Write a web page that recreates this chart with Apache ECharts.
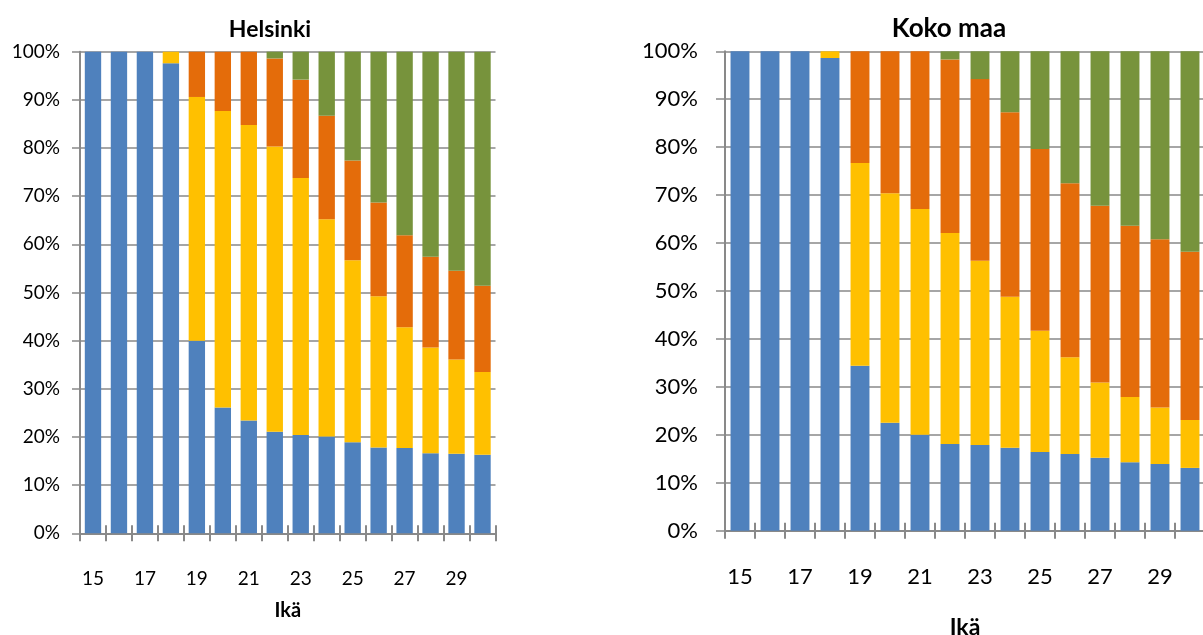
<!DOCTYPE html>
<html>
<head>
<meta charset="utf-8">
<script src="https://cdn.jsdelivr.net/npm/echarts@6/dist/echarts.min.js"></script>
<style>
html,body{margin:0;padding:0;background:#fff;}
#chart{width:1203px;height:635px;}
</style>
</head>
<body>
<div id="chart"></div>
<script>
const ages = ['15','16','17','18','19','20','21','22','23','24','25','26','27','28','29','30'];

// Helsinki (shares, %)
const helBlue   = [100,100,100,97.6,40.0,26.1,23.4,21.1,20.4,20.1,18.9,17.8,17.7,16.6,16.5,16.3];
const helYellow = [0,0,0,2.4,50.6,61.6,61.4,59.2,53.4,45.1,37.8,31.4,25.1,22.0,19.6,17.2];
const helOrange = [0,0,0,0,9.4,12.3,15.2,18.3,20.4,21.5,20.7,19.5,19.1,18.8,18.4,17.9];
const helGreen  = [0,0,0,0,0,0,0,1.4,5.8,13.3,22.6,31.3,38.1,42.6,45.5,48.6];

// Koko maa (shares, %)
const kokoBlue   = [100,100,100,98.6,34.4,22.5,20.0,18.1,17.9,17.3,16.4,16.0,15.2,14.3,13.9,13.1];
const kokoYellow = [0,0,0,1.4,42.3,47.9,47.1,44.0,38.4,31.5,25.3,20.2,15.7,13.6,11.8,10.0];
const kokoOrange = [0,0,0,0,23.3,29.6,32.9,36.2,37.9,38.5,37.9,36.3,36.9,35.7,35.1,35.1];
const kokoGreen  = [0,0,0,0,0,0,0,1.7,5.8,12.7,20.4,27.5,32.2,36.4,39.2,41.8];

const titles = ['Helsinki', 'Koko maa'];
const axisName = 'Ikä';

const colors = ['#4F81BD', '#FFC000', '#E46C0A', '#77933C'];
const FONT = 'Lato';
const GRAY = '#898989';

const chart = echarts.init(document.getElementById('chart'), null, {renderer: 'canvas'});

function mainX(gi, gap, fs, nfs, lm) {
  return {
    type: 'category', gridIndex: gi, data: ages, position: 'bottom',
    boundaryGap: true,
    axisLine: {show: true, lineStyle: {color: GRAY, width: 2}},
    axisTick: {show: true, interval: 0, length: 8, lineStyle: {color: GRAY, width: 2}},
    axisLabel: {interval: 1, margin: lm, fontFamily: FONT, fontSize: fs, color: '#000'},
    name: axisName, nameLocation: 'middle', nameGap: gap,
    nameTextStyle: {fontFamily: FONT, fontSize: nfs, fontWeight: 'bold', color: '#000'},
    splitLine: {show: false}
  };
}
function innerX(gi) {
  return {
    type: 'category', gridIndex: gi, data: ages, position: 'bottom',
    boundaryGap: true,
    axisLine: {show: false},
    axisTick: {show: true, inside: true, interval: 0, length: 8, lineStyle: {color: GRAY, width: 2}},
    axisLabel: {show: false},
    splitLine: {show: false}
  };
}
function yAx(gi, fs, margin, tl) {
  return {
    type: 'value', gridIndex: gi, min: 0, max: 100, interval: 10,
    axisLine: {show: true, lineStyle: {color: GRAY, width: 2}},
    axisTick: {show: true, length: tl, lineStyle: {color: GRAY, width: 1.5}},
    axisLabel: {formatter: '{value}%', margin: margin, fontFamily: FONT, fontSize: fs, color: '#000'},
    splitLine: {show: true, lineStyle: {color: GRAY, width: 1.5}}
  };
}
function bars(gi, stack, arrs) {
  return arrs.map((d, i) => ({
    type: 'bar', xAxisIndex: gi, yAxisIndex: gi, stack: stack,
    data: d, barCategoryGap: '37%',
    itemStyle: {color: colors[i]},
    emphasis: {disabled: true}
  }));
}

chart.setOption({
  animation: false,
  backgroundColor: '#fff',
  title: [
    {text: titles[0], left: 265, top: 13, textAlign: 'center',
     textStyle: {fontFamily: FONT, fontSize: 23, fontWeight: 'bold', color: '#000'}},
    {text: titles[1], left: 944, top: 11, textAlign: 'center',
     textStyle: {fontFamily: FONT, fontSize: 26, fontWeight: 'bold', color: '#000'}}
  ],
  grid: [
    {left: 80, top: 51.7, width: 415.5, height: 481.6, outerBoundsMode: 'none', containLabel: false},
    {left: 725, top: 51.3, width: 480, height: 479.4, outerBoundsMode: 'none', containLabel: false}
  ],
  xAxis: [mainX(0, 67, 19, 20, 36), mainX(1, 85, 22, 23, 35), innerX(0), innerX(1)],
  yAxis: [yAx(0, 19, 20, 8), yAx(1, 22, 27, 9)],
  series: [].concat(
    bars(0, 'hel', [helBlue, helYellow, helOrange, helGreen]),
    bars(1, 'koko', [kokoBlue, kokoYellow, kokoOrange, kokoGreen])
  )
});
</script>
</body>
</html>
